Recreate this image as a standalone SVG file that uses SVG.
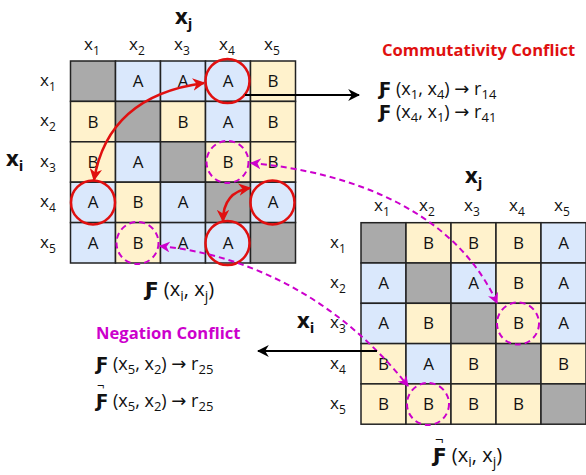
<svg xmlns="http://www.w3.org/2000/svg" width="586" height="475" viewBox="0 0 586 475">
<style>
text{font-family:"Open Sans","DejaVu Sans",sans-serif;fill:#111}
.c{stroke:#222;stroke-width:1.5}
.g{fill:#aaaaaa}
.a{fill:#dae8fc}
.b{fill:#fff2cc}
.t{font-size:17px;text-anchor:middle}
.lab{font-size:17px}
.ttl{font-size:22px;font-weight:bold}
.sub{font-size:12px}
.big{font-size:20px}
.sub2{font-size:14px}
.eq{font-size:18px}
.sub3{font-size:13px}
.red{fill:none;stroke:#e01010;stroke-width:2.5}
.mag{fill:none;stroke:#cc00cc;stroke-width:2;stroke-dasharray:6,4}
.blk{fill:none;stroke:#000;stroke-width:2}
</style>
<defs>
<marker id="mr" viewBox="0 0 10 10" refX="9" refY="5" markerWidth="5" markerHeight="5" orient="auto-start-reverse"><path d="M0,0 L10,5 L0,10 L3,5 Z" fill="#e01010"/></marker>
<marker id="mm" viewBox="0 0 10 10" refX="9" refY="5" markerWidth="5.5" markerHeight="5.5" orient="auto-start-reverse"><path d="M0,0 L10,5 L0,10 L3,5 Z" fill="#cc00cc"/></marker>
<marker id="mb" viewBox="0 0 10 10" refX="9" refY="5" markerWidth="6" markerHeight="6" orient="auto"><path d="M0,0 L10,5 L0,10 L3,5 Z" fill="#000"/></marker>
</defs>

<!-- Left matrix -->
<g id="matrixF">
<text x="175" y="24" class="ttl">x<tspan dy="5" font-size="15">j</tspan></text>
<g class="lab">
<text x="84" y="50">x<tspan class="sub" dy="5">1</tspan></text>
<text x="129" y="50">x<tspan class="sub" dy="5">2</tspan></text>
<text x="174" y="50">x<tspan class="sub" dy="5">3</tspan></text>
<text x="219" y="50">x<tspan class="sub" dy="5">4</tspan></text>
<text x="264" y="50">x<tspan class="sub" dy="5">5</tspan></text>
<text x="40" y="86">x<tspan class="sub" dy="5">1</tspan></text>
<text x="40" y="126">x<tspan class="sub" dy="5">2</tspan></text>
<text x="40" y="167">x<tspan class="sub" dy="5">3</tspan></text>
<text x="40" y="207">x<tspan class="sub" dy="5">4</tspan></text>
<text x="40" y="248">x<tspan class="sub" dy="5">5</tspan></text>
</g>
<text x="6" y="166" class="ttl">x<tspan dy="5" font-size="15">i</tspan></text>
<g transform="translate(70.5,61)">
<g id="L11"><rect x="0" y="0" width="45" height="40.4" class="c g"/></g>
<g id="L12"><rect x="45" y="0" width="45" height="40.4" class="c a"/><text x="67.5" y="26.2" class="t">A</text></g>
<g id="L13"><rect x="90" y="0" width="45" height="40.4" class="c a"/><text x="112.5" y="26.2" class="t">A</text></g>
<g id="L14"><rect x="135" y="0" width="45" height="40.4" class="c a"/><text x="157.5" y="26.2" class="t">A</text></g>
<g id="L15"><rect x="180" y="0" width="45" height="40.4" class="c b"/><text x="202.5" y="26.2" class="t">B</text></g>
<g id="L21"><rect x="0" y="40.4" width="45" height="40.4" class="c b"/><text x="22.5" y="66.6" class="t">B</text></g>
<g id="L22"><rect x="45" y="40.4" width="45" height="40.4" class="c g"/></g>
<g id="L23"><rect x="90" y="40.4" width="45" height="40.4" class="c b"/><text x="112.5" y="66.6" class="t">B</text></g>
<g id="L24"><rect x="135" y="40.4" width="45" height="40.4" class="c a"/><text x="157.5" y="66.6" class="t">A</text></g>
<g id="L25"><rect x="180" y="40.4" width="45" height="40.4" class="c b"/><text x="202.5" y="66.6" class="t">B</text></g>
<g id="L31"><rect x="0" y="80.8" width="45" height="40.4" class="c b"/><text x="22.5" y="107" class="t">B</text></g>
<g id="L32"><rect x="45" y="80.8" width="45" height="40.4" class="c a"/><text x="67.5" y="107" class="t">A</text></g>
<g id="L33"><rect x="90" y="80.8" width="45" height="40.4" class="c g"/></g>
<g id="L34"><rect x="135" y="80.8" width="45" height="40.4" class="c b"/><text x="157.5" y="107" class="t">B</text></g>
<g id="L35"><rect x="180" y="80.8" width="45" height="40.4" class="c b"/><text x="202.5" y="107" class="t">B</text></g>
<g id="L41"><rect x="0" y="121.2" width="45" height="40.4" class="c a"/><text x="22.5" y="147.4" class="t">A</text></g>
<g id="L42"><rect x="45" y="121.2" width="45" height="40.4" class="c b"/><text x="67.5" y="147.4" class="t">B</text></g>
<g id="L43"><rect x="90" y="121.2" width="45" height="40.4" class="c a"/><text x="112.5" y="147.4" class="t">A</text></g>
<g id="L44"><rect x="135" y="121.2" width="45" height="40.4" class="c g"/></g>
<g id="L45"><rect x="180" y="121.2" width="45" height="40.4" class="c a"/><text x="202.5" y="147.4" class="t">A</text></g>
<g id="L51"><rect x="0" y="161.6" width="45" height="40.4" class="c a"/><text x="22.5" y="187.8" class="t">A</text></g>
<g id="L52"><rect x="45" y="161.6" width="45" height="40.4" class="c b"/><text x="67.5" y="187.8" class="t">B</text></g>
<g id="L53"><rect x="90" y="161.6" width="45" height="40.4" class="c a"/><text x="112.5" y="187.8" class="t">A</text></g>
<g id="L54"><rect x="135" y="161.6" width="45" height="40.4" class="c a"/><text x="157.5" y="187.8" class="t">A</text></g>
<g id="L55"><rect x="180" y="161.6" width="45" height="40.4" class="c g"/></g>
</g>
<text x="145" y="296" class="big"><tspan font-weight="bold">Ƒ</tspan> (x<tspan class="sub2" dy="5">i</tspan><tspan dy="-5">, x</tspan><tspan class="sub2" dy="5">j</tspan><tspan dy="-5">)</tspan></text>
</g>

<!-- Right matrix -->
<g id="matrixNotF">
<text x="465" y="183" class="ttl">x<tspan dy="5" font-size="15">j</tspan></text>
<g class="lab">
<text x="374" y="211">x<tspan class="sub" dy="5">1</tspan></text>
<text x="419" y="211">x<tspan class="sub" dy="5">2</tspan></text>
<text x="464" y="211">x<tspan class="sub" dy="5">3</tspan></text>
<text x="509" y="211">x<tspan class="sub" dy="5">4</tspan></text>
<text x="554" y="211">x<tspan class="sub" dy="5">5</tspan></text>
<text x="330" y="248">x<tspan class="sub" dy="5">1</tspan></text>
<text x="330" y="288">x<tspan class="sub" dy="5">2</tspan></text>
<text x="330" y="328">x<tspan class="sub" dy="5">3</tspan></text>
<text x="330" y="369">x<tspan class="sub" dy="5">4</tspan></text>
<text x="330" y="409">x<tspan class="sub" dy="5">5</tspan></text>
</g>
<text x="297" y="328" class="ttl">x<tspan dy="5" font-size="15">i</tspan></text>
<g transform="translate(361,222.7)">
<g id="R11"><rect x="0" y="0" width="45" height="40.3" class="c g"/></g>
<g id="R12"><rect x="45" y="0" width="45" height="40.3" class="c b"/><text x="67.5" y="26.2" class="t">B</text></g>
<g id="R13"><rect x="90" y="0" width="45" height="40.3" class="c b"/><text x="112.5" y="26.2" class="t">B</text></g>
<g id="R14"><rect x="135" y="0" width="45" height="40.3" class="c b"/><text x="157.5" y="26.2" class="t">B</text></g>
<g id="R15"><rect x="180" y="0" width="45" height="40.3" class="c a"/><text x="202.5" y="26.2" class="t">A</text></g>
<g id="R21"><rect x="0" y="40.3" width="45" height="40.3" class="c a"/><text x="22.5" y="66.5" class="t">A</text></g>
<g id="R22"><rect x="45" y="40.3" width="45" height="40.3" class="c g"/></g>
<g id="R23"><rect x="90" y="40.3" width="45" height="40.3" class="c a"/><text x="112.5" y="66.5" class="t">A</text></g>
<g id="R24"><rect x="135" y="40.3" width="45" height="40.3" class="c b"/><text x="157.5" y="66.5" class="t">B</text></g>
<g id="R25"><rect x="180" y="40.3" width="45" height="40.3" class="c a"/><text x="202.5" y="66.5" class="t">A</text></g>
<g id="R31"><rect x="0" y="80.6" width="45" height="40.3" class="c a"/><text x="22.5" y="106.8" class="t">A</text></g>
<g id="R32"><rect x="45" y="80.6" width="45" height="40.3" class="c b"/><text x="67.5" y="106.8" class="t">B</text></g>
<g id="R33"><rect x="90" y="80.6" width="45" height="40.3" class="c g"/></g>
<g id="R34"><rect x="135" y="80.6" width="45" height="40.3" class="c b"/><text x="157.5" y="106.8" class="t">B</text></g>
<g id="R35"><rect x="180" y="80.6" width="45" height="40.3" class="c a"/><text x="202.5" y="106.8" class="t">A</text></g>
<g id="R41"><rect x="0" y="120.9" width="45" height="40.3" class="c b"/><text x="22.5" y="147.1" class="t">B</text></g>
<g id="R42"><rect x="45" y="120.9" width="45" height="40.3" class="c a"/><text x="67.5" y="147.1" class="t">A</text></g>
<g id="R43"><rect x="90" y="120.9" width="45" height="40.3" class="c b"/><text x="112.5" y="147.1" class="t">B</text></g>
<g id="R44"><rect x="135" y="120.9" width="45" height="40.3" class="c g"/></g>
<g id="R45"><rect x="180" y="120.9" width="45" height="40.3" class="c b"/><text x="202.5" y="147.1" class="t">B</text></g>
<g id="R51"><rect x="0" y="161.2" width="45" height="40.3" class="c b"/><text x="22.5" y="187.4" class="t">B</text></g>
<g id="R52"><rect x="45" y="161.2" width="45" height="40.3" class="c b"/><text x="67.5" y="187.4" class="t">B</text></g>
<g id="R53"><rect x="90" y="161.2" width="45" height="40.3" class="c b"/><text x="112.5" y="187.4" class="t">B</text></g>
<g id="R54"><rect x="135" y="161.2" width="45" height="40.3" class="c b"/><text x="157.5" y="187.4" class="t">B</text></g>
<g id="R55"><rect x="180" y="161.2" width="45" height="40.3" class="c g"/></g>
</g>
<text class="big"><tspan x="435" y="445" font-size="15">¬</tspan><tspan x="433" y="462" font-weight="bold">Ƒ</tspan><tspan> (x</tspan><tspan class="sub2" dy="5">i</tspan><tspan dy="-5">, x</tspan><tspan class="sub2" dy="5">j</tspan><tspan dy="-5">)</tspan></text>
</g>

<!-- Commutativity conflict -->
<g id="commutativity">
<text x="382" y="56" font-size="16.6" font-weight="bold" style="fill:#e01010">Commutativity Conflict</text>
<text x="379" y="95" class="eq"><tspan font-weight="bold">Ƒ</tspan> (x<tspan class="sub3" dy="4">1</tspan><tspan dy="-4">, x</tspan><tspan class="sub3" dy="4">4</tspan><tspan dy="-4">) → r</tspan><tspan class="sub3" dy="4">14</tspan></text>
<text x="379" y="118" class="eq"><tspan font-weight="bold">Ƒ</tspan> (x<tspan class="sub3" dy="4">4</tspan><tspan dy="-4">, x</tspan><tspan class="sub3" dy="4">1</tspan><tspan dy="-4">) → r</tspan><tspan class="sub3" dy="4">41</tspan></text>
</g>

<!-- Negation conflict -->
<g id="negation">
<text x="96" y="339" font-size="16.6" font-weight="bold" style="fill:#cc00cc">Negation Conflict</text>
<text x="96" y="370" class="eq"><tspan font-weight="bold">Ƒ</tspan> (x<tspan class="sub3" dy="4">5</tspan><tspan dy="-4">, x</tspan><tspan class="sub3" dy="4">2</tspan><tspan dy="-4">) → r</tspan><tspan class="sub3" dy="4">25</tspan></text>
<text class="eq"><tspan x="97" y="390" font-size="13">¬</tspan><tspan x="96" y="407" font-weight="bold">Ƒ</tspan><tspan> (x</tspan><tspan class="sub3" dy="4">5</tspan><tspan dy="-4">, x</tspan><tspan class="sub3" dy="4">2</tspan><tspan dy="-4">) → r</tspan><tspan class="sub3" dy="4">25</tspan></text>
</g>

<!-- Connectors -->
<g id="connectors">
<circle cx="227.5" cy="81" r="22" class="red"/>
<circle cx="93" cy="202.4" r="22" class="red"/>
<circle cx="272.5" cy="202.4" r="22" class="red"/>
<circle cx="227.5" cy="243" r="22" class="red"/>
<path d="M94,180 Q108,96 204,83" class="red" marker-start="url(#mr)" marker-end="url(#mr)"/>
<path d="M250,188 Q223,192 223,221" class="red" marker-start="url(#mr)" marker-end="url(#mr)"/>
<circle cx="227.5" cy="162" r="21" class="mag"/>
<circle cx="137.5" cy="243" r="21" class="mag"/>
<circle cx="518" cy="323.5" r="21" class="mag"/>
<circle cx="428" cy="404" r="21" class="mag"/>
<path d="M251,163 C330,170 450,200 497,303" class="mag" marker-start="url(#mm)" marker-end="url(#mm)"/>
<path d="M160,246 C250,255 340,300 408,386" class="mag" marker-start="url(#mm)" marker-end="url(#mm)"/>
<path d="M245,95 L359,95" class="blk" marker-end="url(#mb)"/>
<path d="M377,351 L258,351" class="blk" marker-end="url(#mb)"/>
</g>
</svg>
